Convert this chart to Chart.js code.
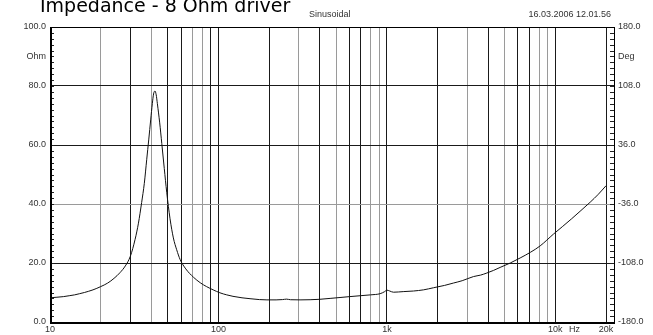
<!DOCTYPE html>
<html><head><meta charset="utf-8">
<script src="https://cdn.jsdelivr.net/npm/chart.js@4/dist/chart.umd.min.js"></script>
<style>html,body{margin:0;padding:0;background:#fff;overflow:hidden}#wrap{width:653px;height:335px;position:relative}</style>
</head><body><div id="wrap"><canvas id="c" width="653" height="335"></canvas></div>
<script>
const freqHz = [10, 11, 12, 13, 14, 15, 16, 18, 20, 22, 24, 26, 28, 30, 32, 33.5, 35, 36.3, 37.5, 38.6, 39.6, 40.5, 41.2, 42, 42.7, 43.4, 44.8, 46.1, 47.7, 49.3, 51.6, 54, 56.5, 59.2, 64, 71, 78, 85, 93, 102, 112, 122, 138, 154, 175, 194, 220, 240, 254, 268, 305, 350, 400, 460, 527, 600, 693, 800, 912, 970, 1000, 1040, 1094, 1250, 1437, 1650, 1889, 2200, 2483, 2800, 3266, 3600, 3920, 4300, 4700, 5400, 6180, 7100, 8128, 9750, 11000, 12500, 14200, 16100, 18000, 20000];
const impedanceOhm = [8.2, 8.4, 8.6, 8.9, 9.2, 9.6, 10.0, 10.9, 12.0, 13.2, 14.8, 16.7, 19.0, 22.3, 28, 33.5, 40.5, 47, 55, 62, 68.5, 74, 77.3, 78.3, 77, 74, 67.5, 60.5, 52, 44, 35, 28.5, 24.5, 21.2, 18, 15.2, 13.3, 12.0, 10.9, 9.9, 9.2, 8.7, 8.2, 7.9, 7.6, 7.5, 7.5, 7.6, 7.75, 7.55, 7.5, 7.55, 7.7, 8.0, 8.3, 8.6, 8.9, 9.2, 9.6, 10.3, 10.8, 10.5, 10.1, 10.3, 10.5, 10.9, 11.6, 12.4, 13.2, 14.0, 15.4, 15.9, 16.6, 17.5, 18.5, 20.0, 21.7, 23.6, 25.8, 29.8, 32.3, 35.0, 37.8, 40.6, 43.3, 46.2];
const xGridValues = [10,20,30,40,50,60,70,80,90,100,200,300,400,500,600,700,800,900,1000,2000,3000,4000,5000,6000,7000,8000,9000,10000,20000];
const xTickLabels = {10:'10', 100:'100', 1000:'1k', 10000:'10k', 20000:'20k'};
const xGrayLines = [20,40,70,80,300,500,800,900,3000,5000,8000,9000];
const ohmTicks = [0,20,40,60,80,90,100];
const ohmUnitAt = 90;
const degTicks = [-180,-108,-36,36,108,144,180];
const degUnitAt = 144;
const ohmGrayLines = [40];

const data = freqHz.map((f,i)=>({x:f, y:impedanceOhm[i]}));
const labelFont = {family:'"Liberation Sans", Arial, sans-serif', size:9};

const decor = {
  id:'decor',
  afterDraw(chart){
    const ctx = chart.ctx, a = chart.chartArea;
    const yl = chart.scales.y;
    ctx.save();
    ctx.strokeStyle = '#222'; ctx.lineWidth = 1;
    ctx.beginPath();
    for(let v=0; v<=100; v+=2){
      const p = Math.round(yl.getPixelForValue(v))+0.5;
      ctx.moveTo(a.left, p); ctx.lineTo(a.left+4, p);
      ctx.moveTo(a.right-4, p); ctx.lineTo(a.right, p);
    }
    ctx.stroke();
    ctx.strokeStyle = '#000';
    ctx.lineWidth = 1;
    ctx.strokeRect(Math.round(a.left)+0.5, Math.round(a.top)+0.5, Math.round(a.right-a.left), Math.round(a.bottom-a.top));
    ctx.lineWidth = 2;
    ctx.beginPath();
    ctx.moveTo(Math.round(a.left)+1, Math.round(a.top));
    ctx.lineTo(Math.round(a.left)+1, Math.round(a.bottom)+1);
    ctx.lineTo(Math.round(a.right)+1, Math.round(a.bottom)+1);
    ctx.stroke();
    ctx.fillStyle = '#000';
    ctx.textBaseline = 'alphabetic';
    ctx.textAlign = 'left';
    ctx.font = '19px "DejaVu Sans", Verdana, sans-serif';
    ctx.fillText('Impedance - 8 Ohm driver', 40, 12);
    ctx.fillStyle = '#333';
    ctx.font = '9px "Liberation Sans", Arial, sans-serif';
    ctx.fillText('Sinusoidal', 309, 17);
    ctx.textAlign = 'right';
    ctx.fillText('16.03.2006 12.01.56', 611, 17);
    ctx.textAlign = 'left';
    ctx.textBaseline = 'top';
    ctx.fillText('Hz', 569, a.bottom+3);
    ctx.restore();
  }
};

new Chart(document.getElementById('c'), {
  type:'line',
  data:{datasets:[{data, borderColor:'#111', borderWidth:1, pointRadius:0, cubicInterpolationMode:'monotone', fill:false}]},
  options:{
    responsive:false, animation:false, devicePixelRatio:1,
    plugins:{legend:{display:false}, tooltip:{enabled:false}},
    layout:{padding:{top:27, left:0, right:0, bottom:0}},
    scales:{
      x:{type:'logarithmic', min:10, max:22300,
        afterBuildTicks(s){ s.ticks = xGridValues.map(v=>({value:v})); },
        afterFit(s){ s.height = 13; },
        ticks:{autoSkip:false, maxRotation:0, padding:2, color:'#333', font:labelFont,
          callback:(v)=> xTickLabels[v] !== undefined ? xTickLabels[v] : ''},
        grid:{drawTicks:false, lineWidth:1, color:(c)=> (c.tick && (c.tick.value===10)) ? 'rgba(0,0,0,0)' : (c.tick && xGrayLines.includes(c.tick.value) ? '#9a9a9a' : '#1a1a1a')},
        border:{display:false}
      },
      y:{position:'left', min:0, max:100,
        afterBuildTicks(s){ s.ticks = ohmTicks.map(v=>({value:v})); },
        afterFit(s){ s.width = 50; },
        ticks:{padding:4, color:'#333', font:labelFont,
          callback:(v)=> v===ohmUnitAt ? 'Ohm' : Number(v).toFixed(1)},
        grid:{drawTicks:false, lineWidth:1, color:(c)=>{const v=c.tick&&c.tick.value; if(v===0||v===100||v===ohmUnitAt) return 'rgba(0,0,0,0)'; return ohmGrayLines.includes(v)?'#9a9a9a':'#1a1a1a';}},
        border:{display:false}
      },
      y2:{position:'right', min:-180, max:180,
        afterBuildTicks(s){ s.ticks = degTicks.map(v=>({value:v})); },
        afterFit(s){ s.width = 39; },
        ticks:{padding:4, color:'#333', font:labelFont,
          callback:(v)=> v===degUnitAt ? 'Deg' : Number(v).toFixed(1)},
        grid:{display:false, drawTicks:false},
        border:{display:false}
      }
    }
  },
  plugins:[decor]
});
</script></body></html>
